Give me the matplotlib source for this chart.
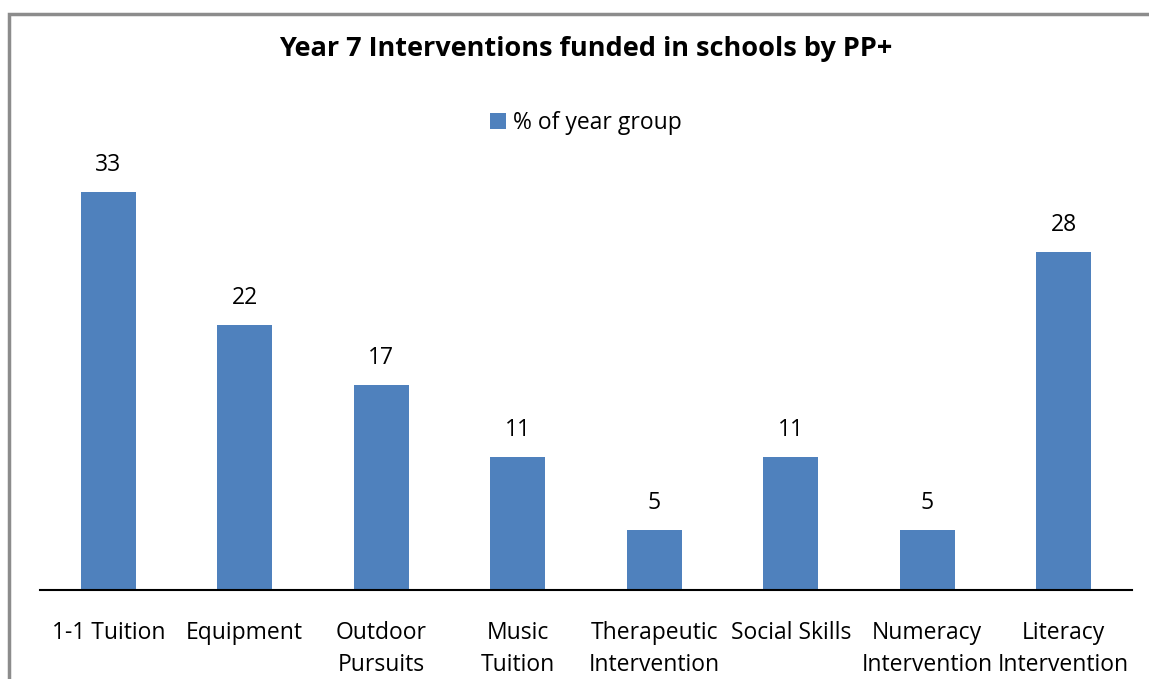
import matplotlib
matplotlib.use("Agg")
import matplotlib.pyplot as plt
from matplotlib.patches import Rectangle

categories = ["1-1 Tuition", "Equipment", "Outdoor\nPursuits", "Music\nTuition",
              "Therapeutic\nIntervention", "Social Skills", "Numeracy\nIntervention",
              "Literacy\nIntervention"]
values = [33, 22, 17, 11, 5, 11, 5, 28]
series_name = "% of year group"
title = "Year 7 Interventions funded in schools by PP+"

bar_color = "#4F81BD"
plt.rcParams["font.family"] = ["Open Sans", "DejaVu Sans"]

W, H = 1149, 679
fig = plt.figure(figsize=(W / 100, H / 100), dpi=100)

# outer chart frame (top and left edges visible)
fig.patches.append(Rectangle((9 / W, -0.1), 1.2, (H - 14) / H + 0.1,
                             transform=fig.transFigure, fill=False,
                             edgecolor="#8c8c8c", linewidth=2.5))

ax = fig.add_axes([40 / W, (H - 590) / H, (1132 - 40) / W, (590 - 168) / H])
x = range(len(categories))
bars = ax.bar(x, values, width=0.40, color=bar_color, label=series_name)
ax.set_xlim(-0.5, len(categories) - 0.5)
ax.set_ylim(0, 35)

for rect, v in zip(bars, values):
    ax.annotate(str(v), (rect.get_x() + rect.get_width() / 2, v),
                xytext=(0, 19.5), textcoords="offset points", ha="center",
                va="center", fontsize=16.5, color="black", annotation_clip=False)

ax.set_xticks(list(x))
ax.set_xticklabels(categories, fontsize=16.5, linespacing=1.45)
ax.tick_params(axis="x", length=0, pad=22)
ax.set_yticks([])
for s in ["left", "right", "top"]:
    ax.spines[s].set_visible(False)
ax.spines["bottom"].set_linewidth(1.5)
ax.spines["bottom"].set_color("black")

fig.text(586 / W, 1 - 49 / H, title, ha="center", va="center",
         fontsize=19.5, fontweight="bold")

fig.legend(handles=[bars], labels=[series_name], loc="center",
           bbox_to_anchor=(586 / W, 1 - 123 / H), frameon=False,
           fontsize=16.5, handlelength=0.7, handleheight=0.7, handletextpad=0.3)

fig.savefig("out.png", dpi=100)
